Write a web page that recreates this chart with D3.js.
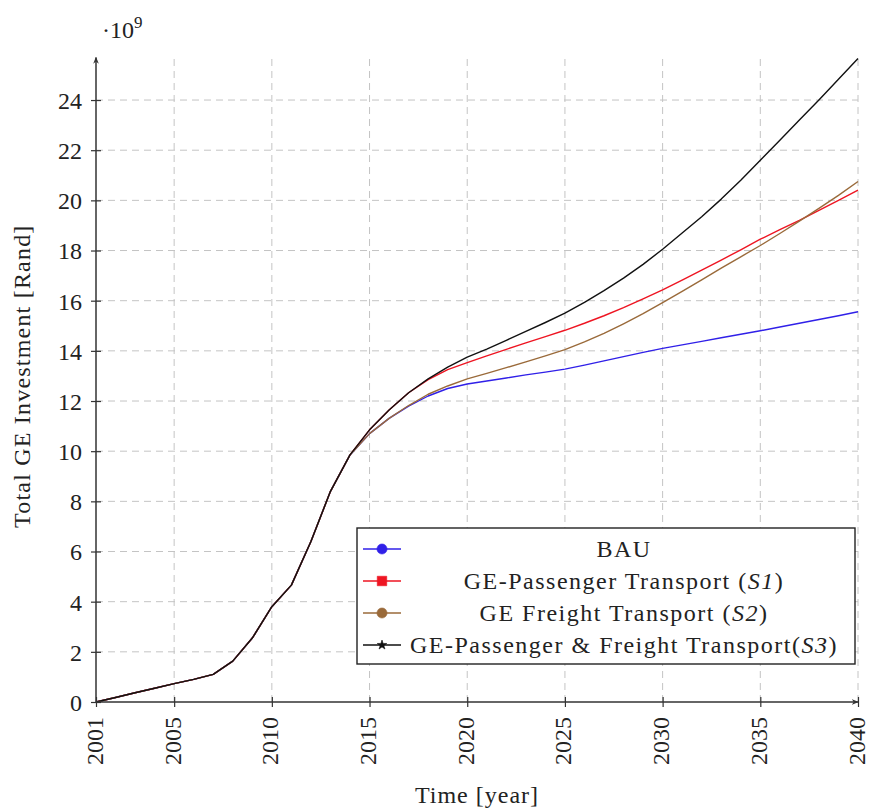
<!DOCTYPE html>
<html>
<head>
<meta charset="utf-8">
<script src="https://cdn.jsdelivr.net/npm/d3@7"></script>
<style>
  html, body { margin: 0; padding: 0; background: #fff; }
  svg { display: block; }
  text { font-family: "Liberation Serif", "Times New Roman", serif; fill: #222; }
</style>
</head>
<body>
<svg id="chart" width="869" height="810"></svg>
<script>
// Years on the horizontal axis
const years = [2001, 2002, 2003, 2004, 2005, 2006, 2007, 2008, 2009, 2010,
               2011, 2012, 2013, 2014, 2015, 2016, 2017, 2018, 2019, 2020,
               2021, 2022, 2023, 2024, 2025, 2026, 2027, 2028, 2029, 2030,
               2031, 2032, 2033, 2034, 2035, 2036, 2037, 2038, 2039, 2040];

// Total GE investment per scenario, in 10^9 Rand
const bau = [0, 0.18, 0.37, 0.55, 0.73, 0.9, 1.1, 1.63, 2.55, 3.8,
             4.66, 6.4, 8.4, 9.85, 10.7, 11.31, 11.8, 12.2, 12.5, 12.68,
             12.8, 12.92, 13.04, 13.15, 13.27, 13.43, 13.6, 13.77, 13.94, 14.1,
             14.24, 14.38, 14.52, 14.66, 14.8, 14.95, 15.1, 15.25, 15.4, 15.56];
const s1 = [0, 0.18, 0.37, 0.55, 0.73, 0.9, 1.1, 1.63, 2.55, 3.8,
            4.66, 6.4, 8.4, 9.85, 10.85, 11.64, 12.33, 12.85, 13.25, 13.53,
            13.8, 14.06, 14.32, 14.57, 14.82, 15.1, 15.4, 15.72, 16.07, 16.43,
            16.82, 17.22, 17.62, 18.03, 18.45, 18.83, 19.2, 19.6, 20.0, 20.41];
const s2 = [0, 0.18, 0.37, 0.55, 0.73, 0.9, 1.1, 1.63, 2.55, 3.8,
            4.66, 6.4, 8.4, 9.85, 10.7, 11.31, 11.82, 12.27, 12.6, 12.88,
            13.1, 13.33, 13.56, 13.8, 14.05, 14.36, 14.7, 15.08, 15.48, 15.92,
            16.37, 16.83, 17.3, 17.75, 18.2, 18.68, 19.17, 19.68, 20.2, 20.75];
const s3 = [0, 0.18, 0.37, 0.55, 0.73, 0.9, 1.1, 1.63, 2.55, 3.8,
            4.66, 6.4, 8.4, 9.85, 10.85, 11.64, 12.33, 12.88, 13.35, 13.75,
            14.07, 14.42, 14.78, 15.13, 15.5, 15.93, 16.4, 16.9, 17.45, 18.05,
            18.7, 19.35, 20.05, 20.8, 21.6, 22.4, 23.2, 24.0, 24.83, 25.66];

// Tick values
const xTicks = [2001, 2005, 2010, 2015, 2020, 2025, 2030, 2035, 2040];
const yTicks = [0, 2, 4, 6, 8, 10, 12, 14, 16, 18, 20, 22, 24];

// Legend entries
const seriesNames = ["BAU", "GE-Passenger Transport (S1)", "GE Freight Transport (S2)", "GE-Passenger & Freight Transport(S3)"];
const seriesColors = ["#3020e8", "#ee1522", "#9a6a3a", "#111111"];
const seriesMarks = ["circle", "square", "circle", "star"];
const seriesData = [bau, s1, s2, s3];

const svg = d3.select("#chart");

const x = d3.scaleLinear().domain([years[0], years[years.length - 1]]).range([96, 858]);
const yMax = d3.max(seriesData, d => d3.max(d));
const y = d3.scaleLinear().domain([0, yMax]).range([702, 58.4]);

const defs = svg.append("defs");
defs.append("marker")
  .attr("id", "arrow")
  .attr("viewBox", "0 0 10 10")
  .attr("refX", 9).attr("refY", 5)
  .attr("markerWidth", 7).attr("markerHeight", 7)
  .attr("markerUnits", "userSpaceOnUse")
  .attr("orient", "auto")
  .append("path")
  .attr("d", "M0,1 L10,5 L0,9 L3,5 Z")
  .attr("fill", "#333");

// Dashed grid
const grid = svg.append("g").attr("stroke", "#c4c4c4").attr("stroke-width", 1).attr("stroke-dasharray", "7,5");
grid.selectAll("line.h").data(yTicks.filter(v => v > 0)).join("line")
  .attr("x1", x.range()[0]).attr("x2", x.range()[1])
  .attr("y1", d => y(d)).attr("y2", d => y(d));
grid.selectAll("line.v").data(xTicks.filter(v => v > years[0])).join("line")
  .attr("x1", d => x(d)).attr("x2", d => x(d))
  .attr("y1", y.range()[0]).attr("y2", y.range()[1]);

// Series lines
const line = d3.line().x((d, i) => x(years[i])).y(d => y(d));
svg.append("g").selectAll("path").data(seriesData).join("path")
  .attr("d", d => line(d))
  .attr("fill", "none")
  .attr("stroke", (d, i) => seriesColors[i])
  .attr("stroke-width", 1.4)
  .attr("stroke-linejoin", "round");

// Axes
const xAxis = d3.axisBottom(x).tickValues(xTicks).tickFormat(d3.format("d")).tickSize(0);
const yAxis = d3.axisLeft(y).tickValues(yTicks).tickFormat(d3.format("d")).tickSize(0);

const gx = svg.append("g").attr("transform", `translate(0,${y(0)})`).call(xAxis)
  .attr("font-family", "Liberation Serif, serif");
gx.select(".domain").remove();
gx.selectAll(".tick text")
  .attr("transform", "rotate(-90)")
  .attr("x", -15).attr("y", 0).attr("dy", "0.25em")
  .style("text-anchor", "end")
  .style("font-size", "24px")
  .attr("fill", "#222");
gx.selectAll(".tick").append("line")
  .attr("y1", -5).attr("y2", 5).attr("stroke", "#333").attr("stroke-width", 1.2);

const gy = svg.append("g").attr("transform", `translate(${x(years[0])},0)`).call(yAxis)
  .attr("font-family", "Liberation Serif, serif");
gy.select(".domain").remove();
gy.selectAll(".tick text")
  .attr("x", -14).attr("dy", "0.35em")
  .style("font-size", "24px")
  .attr("fill", "#222");
gy.selectAll(".tick").append("line")
  .attr("x1", -5).attr("x2", 5).attr("stroke", "#333").attr("stroke-width", 1.2);

svg.append("line")
  .attr("x1", x.range()[0]).attr("x2", x.range()[1])
  .attr("y1", y(0)).attr("y2", y(0))
  .attr("stroke", "#333").attr("stroke-width", 1.5)
  .attr("marker-end", "url(#arrow)");
svg.append("line")
  .attr("x1", x.range()[0]).attr("x2", x.range()[0])
  .attr("y1", y(0)).attr("y2", y.range()[1] - 1)
  .attr("stroke", "#333").attr("stroke-width", 1.5)
  .attr("marker-end", "url(#arrow)");

// Axis titles and scale factor
svg.append("text")
  .attr("x", (x.range()[0] + x.range()[1]) / 2).attr("y", 803)
  .attr("text-anchor", "middle")
  .style("font-size", "24px").style("letter-spacing", "1px")
  .text("Time [year]");
svg.append("text")
  .attr("transform", `translate(30,${(y.range()[0] + y.range()[1]) / 2 - 4}) rotate(-90)`)
  .attr("text-anchor", "middle")
  .style("font-size", "24px").style("letter-spacing", "1.2px")
  .text("Total GE Investment [Rand]");
const sf = svg.append("text").attr("x", 102).attr("y", 38).style("font-size", "24px");
sf.append("tspan").text("·10");
sf.append("tspan").attr("dy", -10).style("font-size", "17px").text("9");

// Legend
const lg = svg.append("g");
lg.append("rect")
  .attr("x", 357).attr("y", 528).attr("width", 498).attr("height", 136)
  .attr("fill", "#fff").attr("stroke", "#222").attr("stroke-width", 1.4);
const rows = lg.selectAll("g.row").data(seriesNames).join("g")
  .attr("transform", (d, i) => `translate(0,${549 + i * 32})`);
rows.append("line")
  .attr("x1", 363).attr("x2", 401).attr("y1", 0).attr("y2", 0)
  .attr("stroke", (d, i) => seriesColors[i]).attr("stroke-width", 1.4);
rows.append("path")
  .attr("transform", "translate(382,0)")
  .attr("d", (d, i) => {
    const m = seriesMarks[i];
    if (m === "circle") return d3.symbol(d3.symbolCircle, 80)();
    if (m === "square") return d3.symbol(d3.symbolSquare, 90)();
    return d3.symbol(d3.symbolStar, 28)();
  })
  .attr("fill", (d, i) => seriesColors[i])
  .attr("stroke", (d, i) => seriesColors[i])
  .attr("stroke-width", 0.6);
rows.append("text")
  .attr("x", 624).attr("y", 0).attr("dy", "0.35em")
  .attr("text-anchor", "middle")
  .style("font-size", "24px").style("letter-spacing", "1.5px")
  .each(function(d) {
    const t = d3.select(this);
    const m = d.match(/^(.*)\((S\d)\)$/);
    if (m) {
      t.append("tspan").text(m[1] + "(");
      t.append("tspan").style("font-style", "italic").text(m[2]);
      t.append("tspan").text(")");
    } else {
      t.text(d);
    }
  });
</script>
</body>
</html>
